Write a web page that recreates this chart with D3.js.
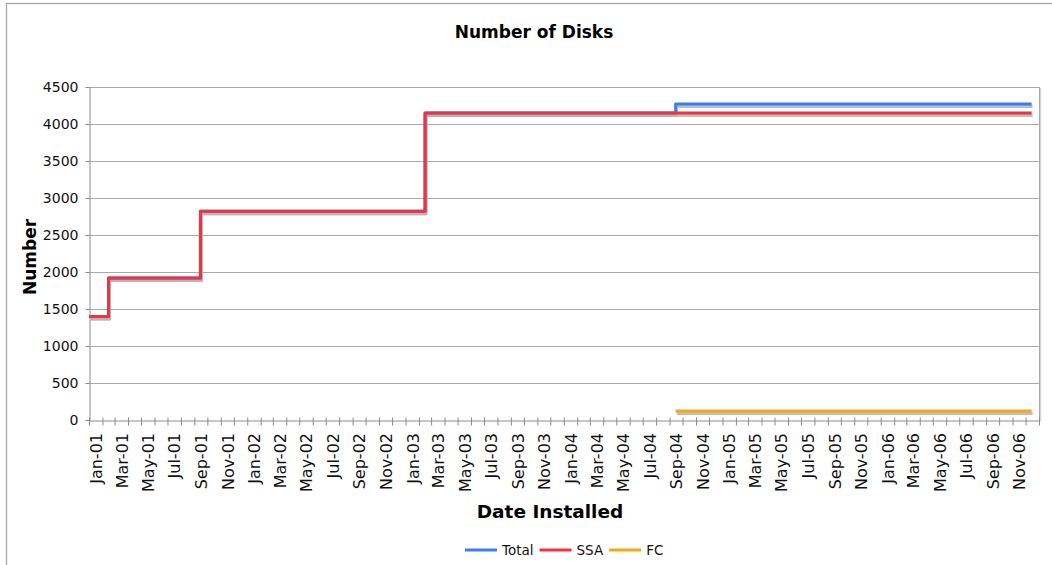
<!DOCTYPE html>
<html>
<head>
<meta charset="utf-8">
<script src="https://cdn.jsdelivr.net/npm/d3@7"></script>
<style>
  html, body { margin: 0; padding: 0; background: #fff; }
  svg { display: block; font-family: "DejaVu Sans", Verdana, sans-serif; }
</style>
</head>
<body>
<svg id="chart" width="1052" height="565"></svg>
<script>
// ---- data ----
const stepDates   = ["2001-01-01", "2001-02-15", "2001-09-15", "2003-02-15", "2004-09-15", "2006-12-15"];
const totalValues = [1400, 1920, 2820, 4150, 4270, 4270];
const ssaValues   = [1400, 1920, 2820, 4150, 4150, 4150];
const fcDates     = ["2004-09-15", "2006-12-15"];
const fcValues    = [120, 120];
const yTicks      = [0, 500, 1000, 1500, 2000, 2500, 3000, 3500, 4000, 4500];
const seriesNames = ["Total", "SSA", "FC"];
const seriesColors = ["#3b7cf4", "#f2323f", "#f7a51a"];

const parse = d3.utcParse("%Y-%m-%d");
const total = stepDates.map((d, i) => ({ date: parse(d), value: totalValues[i] }));
const ssa   = stepDates.map((d, i) => ({ date: parse(d), value: ssaValues[i] }));
const fc    = fcDates.map((d, i) => ({ date: parse(d), value: fcValues[i] }));

const svg = d3.select("#chart");
const m = { left: 89, top: 87, right: 1039, bottom: 420 };

// outer chart frame (cropped at right/bottom)
svg.append("rect").attr("x", 6.5).attr("y", 3.5).attr("width", 1100).attr("height", 600)
  .attr("fill", "none").attr("stroke", "#a8a8a8").attr("stroke-width", 1.3);

const x = d3.scaleUtc()
  .domain([parse("2001-01-01"), parse("2007-01-01")])
  .range([m.left, m.right]);
const y = d3.scaleLinear().domain([0, 4500]).range([m.bottom, m.top]);

// gridlines
svg.append("g").selectAll("line").data(yTicks.filter(v => v > 0)).join("line")
  .attr("x1", m.left).attr("x2", m.right)
  .attr("y1", d => Math.round(y(d)) + 0.5).attr("y2", d => Math.round(y(d)) + 0.5)
  .attr("stroke", "#a9a9a9").attr("stroke-width", 1);

// right border of plot (with slight shadow)
svg.append("line").attr("x1", m.right + 1.5).attr("x2", m.right + 1.5)
  .attr("y1", m.top + 1).attr("y2", m.bottom + 1).attr("stroke", "#d6d6d6").attr("stroke-width", 1.5);
svg.append("line").attr("x1", m.right + 0.5).attr("x2", m.right + 0.5)
  .attr("y1", m.top).attr("y2", m.bottom).attr("stroke", "#a9a9a9").attr("stroke-width", 1);

// y axis
const yAxis = svg.append("g").attr("transform", `translate(${m.left + 0.5},0)`)
  .call(d3.axisLeft(y).tickValues(yTicks).tickFormat(d3.format("d"))
    .tickSizeInner(4).tickSizeOuter(0).tickPadding(7));
yAxis.select(".domain").attr("stroke", "#8c8c8c");
yAxis.selectAll(".tick line").attr("stroke", "#8c8c8c");
yAxis.selectAll(".tick text").attr("font-size", 14).attr("fill", "#111")
  .attr("font-family", "DejaVu Sans, Verdana, sans-serif");

// x axis: monthly tick marks
const monthTicks = d3.utcMonth.range(parse("2001-01-01"), parse("2007-01-02"));
const xTickAxis = svg.append("g").attr("transform", `translate(0,${m.bottom + 0.5})`)
  .call(d3.axisBottom(x).tickValues(monthTicks).tickSizeInner(5).tickSizeOuter(0).tickFormat(""));
xTickAxis.select(".domain").attr("stroke", "#8c8c8c");
xTickAxis.selectAll(".tick line").attr("stroke", "#8c8c8c").attr("y1", -3);

// x axis: labels every two months at mid-month
const labelDates = d3.utcMonth.every(2).range(parse("2001-01-01"), parse("2007-01-01"))
  .map(d => new Date(+d + (d3.utcMonth.offset(d, 1) - d) / 2));
const xLabAxis = svg.append("g").attr("transform", `translate(0,${m.bottom})`)
  .call(d3.axisBottom(x).tickValues(labelDates).tickSize(0).tickFormat(d3.utcFormat("%b-%y")));
xLabAxis.select(".domain").remove();
xLabAxis.selectAll(".tick text")
  .attr("font-size", 16).attr("fill", "#111")
  .attr("font-family", "DejaVu Sans, Verdana, sans-serif")
  .attr("text-anchor", "end")
  .attr("transform", "rotate(-90)")
  .attr("x", -13).attr("y", 0).attr("dy", "0.36em");

// lines
const line = d3.line().x(d => x(d.date)).y(d => y(d.value)).curve(d3.curveStepAfter);
const seriesData = [total, ssa, fc];
const gLines = svg.append("g");
seriesData.forEach(s => {
  gLines.append("path").datum(s).attr("d", line)
    .attr("transform", "translate(1,2.5)")
    .attr("fill", "none").attr("stroke", "#b4b4b4").attr("stroke-opacity", 0.85)
    .attr("stroke-width", 3).attr("stroke-linejoin", "round");
});
seriesData.forEach((s, i) => {
  gLines.append("path").datum(s).attr("d", line)
    .attr("fill", "none").attr("stroke", seriesColors[i])
    .attr("stroke-width", 3).attr("stroke-linejoin", "round");
});

// title
svg.append("text").attr("x", 534).attr("y", 38).attr("text-anchor", "middle")
  .attr("font-size", 17).attr("font-weight", "bold").attr("fill", "#000")
  .text("Number of Disks");

// axis titles
svg.append("text").attr("x", 550).attr("y", 518).attr("text-anchor", "middle")
  .attr("font-size", 18.5).attr("font-weight", "bold").attr("fill", "#000")
  .text("Date Installed");
svg.append("text").attr("transform", "translate(36,257) rotate(-90)").attr("text-anchor", "middle")
  .attr("font-size", 17).attr("font-weight", "bold").attr("fill", "#000")
  .text("Number");

// legend
const lg = svg.append("g");
let lx = 465;
seriesNames.forEach((n, i) => {
  const g = lg.append("g").attr("transform", `translate(${lx},550)`);
  g.append("line").attr("x1", 0).attr("x2", 32).attr("y1", 0).attr("y2", 0)
    .attr("stroke", seriesColors[i]).attr("stroke-width", 3);
  const t = g.append("text").attr("x", 37).attr("y", 0).attr("dy", "0.36em")
    .attr("font-size", 13.5).attr("fill", "#111").text(n);
  lx += 37 + t.node().getComputedTextLength() + 6;
});
</script>
</body>
</html>
